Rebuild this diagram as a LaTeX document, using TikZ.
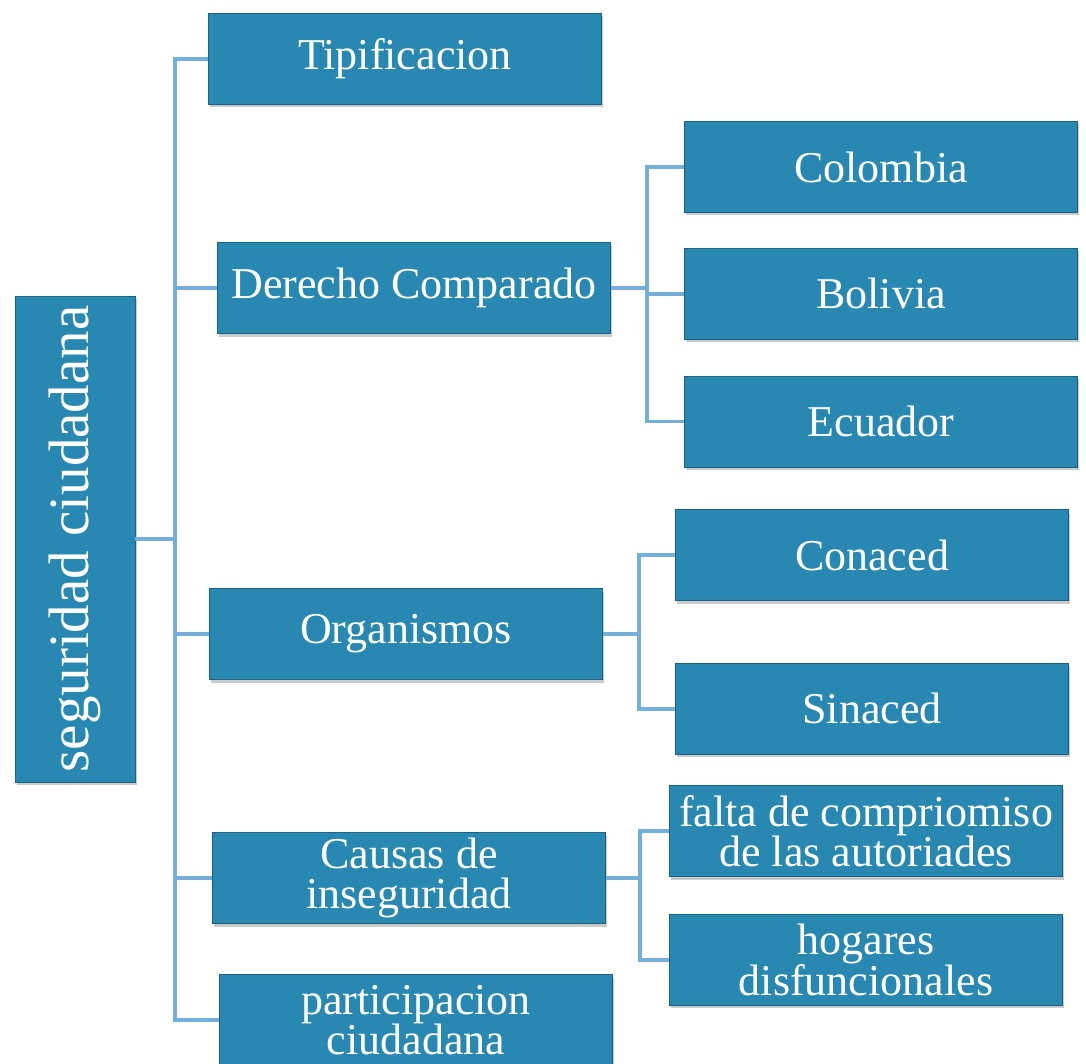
\documentclass[tikz,border=0pt]{standalone}
\usepackage{fontspec}
\setmainfont{Liberation Serif}
\usetikzlibrary{positioning,shadows}

\definecolor{boxblue}{RGB}{40,136,177}
\definecolor{boxedge}{RGB}{26,98,132}
\definecolor{linkblue}{RGB}{115,175,216}

\tikzset{
  box/.style={draw=boxedge, fill=boxblue, text=white, line width=0.8pt,
    minimum width=393pt, minimum height=91pt, inner sep=2pt, align=center,
    font=\fontsize{44}{40}\selectfont,
    drop shadow={shadow xshift=1.5pt, shadow yshift=-3pt, opacity=0.35, fill=black!60}},
  rootbox/.style={box, minimum width=120pt, minimum height=486pt,
    font=\fontsize{57}{60}\selectfont},
  link/.style={draw=linkblue, line width=3.5pt},
}

\begin{document}
\begin{tikzpicture}[x=1pt, y=-1pt]
  \useasboundingbox (0,0) rectangle (1086,1064);
  \clip (0,0) rectangle (1086,1064);
  % root
  \node[rootbox] (root) at (75,539) {\rotatebox{90}{seguridad ciudadana}};
  % first level
  \node[box] (tipif) at (405,59) {Tipificacion};
  \node[box] (derecho) at (414,288) {Derecho Comparado};
  \node[box] (organ) at (406,634) {Organismos};
  \node[box] (causas) at (409,878) {Causas de\\inseguridad};
  \node[box] (partic) at (416,1020) {participacion\\ciudadana};
  % second level
  \node[box] (colombia) at (881,167) {Colombia};
  \node[box, below=35pt of colombia] (bolivia) {Bolivia};
  \node[box, below=36pt of bolivia] (ecuador) {Ecuador};
  \node[box] (conaced) at (872,555) {Conaced};
  \node[box, below=62pt of conaced] (sinaced) {Sinaced};
  \node[box] (falta) at (866,831) {falta de compriomiso\\de las autoriades};
  \node[box, below=37pt of falta] (hogares) {hogares\\disfuncionales};
  % connectors
  \coordinate (trunk) at (175,539);
  \draw[link] (root.east) -- (trunk);
  \foreach \n in {tipif,derecho,organ,causas,partic}
    \draw[link] (trunk) |- (\n.west);
  \draw[link] (derecho.east) -- ++(36,0) coordinate (derj);
  \foreach \n in {colombia,bolivia,ecuador}
    \draw[link] (derj) |- (\n.west);
  \draw[link] (organ.east) -- ++(36,0) coordinate (orgj);
  \foreach \n in {conaced,sinaced}
    \draw[link] (orgj) |- (\n.west);
  \draw[link] (causas.east) -- ++(34,0) coordinate (cauj);
  \foreach \n in {falta,hogares}
    \draw[link] (cauj) |- (\n.west);
\end{tikzpicture}
\end{document}
